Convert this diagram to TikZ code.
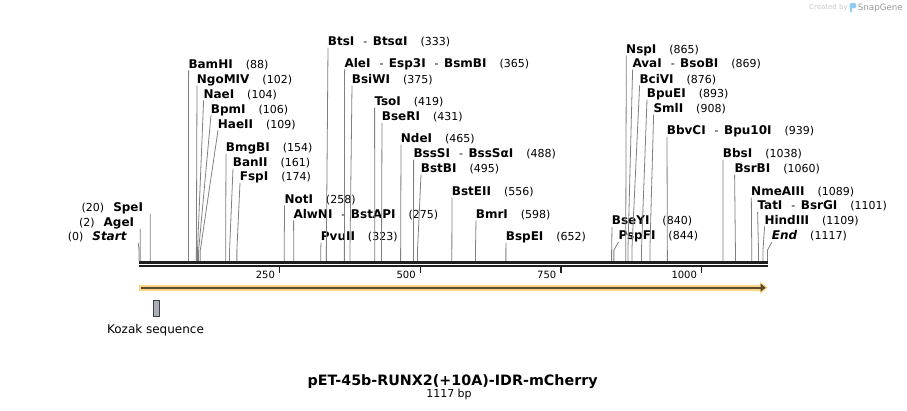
\documentclass[tikz,border=0pt]{standalone}
\usepackage{fontspec}
\setmainfont{DejaVu Sans}
\usepackage{xcolor}
\usetikzlibrary{arrows.meta, calc}

\definecolor{orfband}{RGB}{252,212,130}
\definecolor{orfline}{RGB}{88,72,48}
\definecolor{kozakfill}{RGB}{170,176,187}
\definecolor{sglogo}{RGB}{140,205,240}

\newcommand{\enz}[1]{{\fontsize{12}{14}\selectfont\bfseries #1}}
\newcommand{\sep}{\hspace{9pt}-\hspace{5.5pt}}

\begin{document}
\begin{tikzpicture}[
    x=1pt, y=-1pt,
    site/.style={anchor=base west, inner sep=0pt, font=\fontsize{11}{13}\selectfont},
    lsite/.style={site, anchor=base east},
    leader/.style={draw=black!50, line width=0.8pt},
    strand/.style={draw=black!88, line width=2.5pt},
    tick/.style={draw=black!88, line width=1.2pt},
    ticklbl/.style={anchor=base east, inner sep=0pt, font=\fontsize{10}{12}\selectfont},
    orfarrow/.style={draw=orfband, line width=6pt, -{Triangle[length=7.5pt,width=11.5pt]}},
    orfinner/.style={draw=orfline, line width=2pt, -{Triangle[length=5pt,width=7.5pt]}},
    kozak/.style={rectangle, draw=black!75, fill=kozakfill, line width=0.8pt, minimum width=6.5pt, minimum height=16.5pt, inner sep=0pt},
]
\useasboundingbox (0,0) rectangle (907,411);

% backbone
\coordinate (dna0) at (139,262.3);
\coordinate (dna1) at (767.7,262.3);
\coordinate (cdna0) at (139,266.2);
\coordinate (cdna1) at (767.7,266.2);
\coordinate (top0) at (139,261);
\coordinate (top1) at (767.5,261);
\coordinate (bot0) at (139,267.3);
\coordinate (bot1) at (767.5,267.3);
\draw[strand] (dna0) -- (dna1);
\draw[strand, line width=2.3pt] (cdna0) -- (cdna1);

% ruler
\foreach \bp in {250,500,750,1000} {
  \coordinate (tk\bp) at ($(bot0)!\bp/1117!(bot1)$);
  \draw[tick] (tk\bp) -- ++(0,6);
  \node[ticklbl] (lbl\bp) at ([shift={(-4.5,11)}]tk\bp) {\bp};
}

% sites, left group
\node[lsite] (startsite) at (126.7,240.7) {(0)\hspace{9pt}\enz{\itshape Start}};
\node[lsite] (agei) at (134.3,226.7) {(2)\hspace{9pt}\enz{AgeI}};
\node[lsite] (spei) at (143.3,211.7) {(20)\hspace{9pt}\enz{SpeI}};
\node[site] (bamhi) at (188.3,68.3) {\enz{BamHI}\hspace{13pt}(88)};
\node[site] (ngomiv) at (196.7,83.3) {\enz{NgoMIV}\hspace{13pt}(102)};
\node[site] (naei) at (203.3,98.3) {\enz{NaeI}\hspace{13pt}(104)};
\node[site] (bpmi) at (210.7,113.3) {\enz{BpmI}\hspace{13pt}(106)};
\node[site] (haeii) at (217.7,128.3) {\enz{HaeII}\hspace{13pt}(109)};
\node[site] (bmgbi) at (225.7,151.7) {\enz{BmgBI}\hspace{13pt}(154)};
\node[site] (banii) at (232.7,166.7) {\enz{BanII}\hspace{13pt}(161)};
\node[site] (fspi) at (239.7,181) {\enz{FspI}\hspace{13pt}(174)};
\node[site] (noti) at (284.3,203.3) {\enz{NotI}\hspace{13pt}(258)};
\node[site] (alwni) at (293.3,218.3) {\enz{AlwNI}\sep\enz{BstAPI}\hspace{13pt}(275)};
\node[site] (pvuii) at (320.7,240.7) {\enz{PvuII}\hspace{13pt}(323)};

% sites, middle group
\node[site] (btsi) at (327.7,45.7) {\enz{BtsI}\sep\enz{BtsαI}\hspace{13pt}(333)};
\node[site] (alei) at (344.3,67.3) {\enz{AleI}\sep\enz{Esp3I}\sep\enz{BsmBI}\hspace{13pt}(365)};
\node[site] (bsiwi) at (351.7,83.3) {\enz{BsiWI}\hspace{13pt}(375)};
\node[site] (tsoi) at (374.3,105.7) {\enz{TsoI}\hspace{13pt}(419)};
\node[site] (bseri) at (381.7,121) {\enz{BseRI}\hspace{13pt}(431)};
\node[site] (ndei) at (400.7,142.7) {\enz{NdeI}\hspace{13pt}(465)};
\node[site] (bsssi) at (413.3,157.7) {\enz{BssSI}\sep\enz{BssSαI}\hspace{13pt}(488)};
\node[site] (bstbi) at (420.7,172.7) {\enz{BstBI}\hspace{13pt}(495)};
\node[site] (bsteii) at (451.7,196) {\enz{BstEII}\hspace{13pt}(556)};
\node[site] (bmri) at (475.7,218.3) {\enz{BmrI}\hspace{13pt}(598)};
\node[site] (bspei) at (505.7,240.7) {\enz{BspEI}\hspace{13pt}(652)};

% sites, right group
\node[site] (bseyi) at (611.7,225) {\enz{BseYI}\hspace{13pt}(840)};
\node[site] (pspfi) at (618.3,240) {\enz{PspFI}\hspace{13pt}(844)};
\node[site] (nspi) at (626,53.3) {\enz{NspI}\hspace{13pt}(865)};
\node[site] (avai) at (632.3,67.7) {\enz{AvaI}\sep\enz{BsoBI}\hspace{13pt}(869)};
\node[site] (bcivi) at (639.3,83.3) {\enz{BciVI}\hspace{13pt}(876)};
\node[site] (bpuei) at (646.7,97.7) {\enz{BpuEI}\hspace{13pt}(893)};
\node[site] (smli) at (653.3,112.7) {\enz{SmlI}\hspace{13pt}(908)};
\node[site] (bbvci) at (666.7,135) {\enz{BbvCI}\sep\enz{Bpu10I}\hspace{13pt}(939)};
\node[site] (bbsi) at (722.7,157.7) {\enz{BbsI}\hspace{13pt}(1038)};
\node[site] (bsrbi) at (734.3,172.7) {\enz{BsrBI}\hspace{13pt}(1060)};
\node[site] (nmeaiii) at (751,195.7) {\enz{NmeAIII}\hspace{13pt}(1089)};
\node[site] (tati) at (757.3,210) {\enz{TatI}\sep\enz{BsrGI}\hspace{13pt}(1101)};
\node[site] (hindiii) at (764.3,224.3) {\enz{HindIII}\hspace{13pt}(1109)};
\node[site] (endsite) at (771.7,240) {\enz{\itshape End}\hspace{13pt}(1117)};

% leaders
\foreach \n/\dx/\bp in {startsite/11.5/0, agei/6/2, spei/7/20} {
  \draw[leader] ([shift={(\dx,2)}]\n.base east) -- ($(top0)!\bp/1117!(top1)+(0,-11)$) -- ($(top0)!\bp/1117!(top1)$);
}
\foreach \n/\bp in {bamhi/88, ngomiv/102, naei/104, bpmi/106, haeii/109, bmgbi/154, banii/161, fspi/174,
    noti/258, alwni/275, pvuii/323, btsi/333, alei/365, bsiwi/375, tsoi/419, bseri/431, ndei/465,
    bsssi/488, bstbi/495, bsteii/556, bmri/598, bspei/652, bseyi/840, pspfi/844, nspi/865, avai/869,
    bcivi/876, bpuei/893, smli/908, bbvci/939, bbsi/1038, bsrbi/1060, nmeaiii/1089, tati/1101,
    hindiii/1109, endsite/1117} {
  \draw[leader] ([shift={(0.3,2)}]\n.base west) -- ($(top0)!\bp/1117!(top1)+(0,-11)$) -- ($(top0)!\bp/1117!(top1)$);
}

% feature arrow
\coordinate (orf0) at (139,287.7);
\coordinate (orf1) at (767.7,287.7);
\draw[orfarrow] (orf0) -- (orf1);
\draw[orfinner] ([xshift=2pt]orf0) -- ([xshift=-2pt]orf1);

% Kozak
\node[kozak] (kozak) at (156.3,308.4) {};
\node[anchor=base, inner sep=0pt, font=\fontsize{12}{14}\selectfont] (kozaklbl) at (155.5,334) {Kozak sequence};

% title
\node[anchor=base, inner sep=0pt, font=\fontsize{14.3}{16}\selectfont\bfseries] (title) at (452.7,385) {pET-45b-RUNX2(+10A)-IDR-mCherry};
\node[anchor=base, inner sep=0pt, font=\fontsize{11}{13}\selectfont] (size) at (449,397.7) {1117 bp};

% credit
\node[anchor=base west, inner sep=0pt, text=black!22, font=\fontsize{7}{8}\selectfont] (created) at (809,10) {Created by};
\fill[sglogo, rounded corners=1.5pt] (849.5,3) rectangle (856,8.5);
\fill[sglogo] (849.5,6) rectangle (852.2,12.5);
\node[anchor=base west, inner sep=0pt, text=black!40, font=\fontsize{8.7}{10}\selectfont] (sgname) at (857.7,10.5) {SnapGene};
\end{tikzpicture}
\end{document}
